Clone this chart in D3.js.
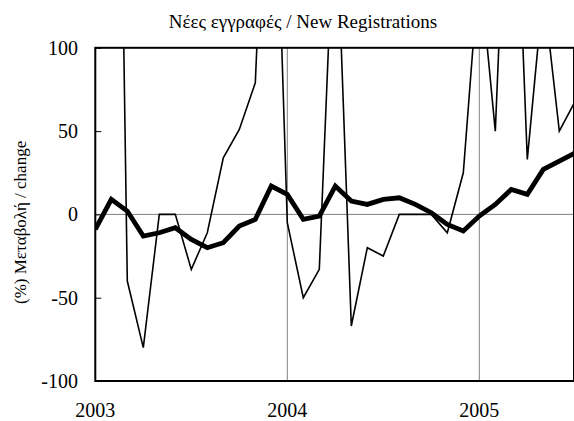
<!DOCTYPE html>
<html>
<head>
<meta charset="utf-8">
<script src="https://cdn.jsdelivr.net/npm/d3@7"></script>
<style>
  html, body { margin: 0; padding: 0; background: #fff; }
  svg { display: block; font-family: "Liberation Serif", "Times New Roman", serif; }
</style>
</head>
<body>
<svg id="chart" width="574" height="421"></svg>
<script>
// Monthly observations, Jan 2003 – Jul 2005
const months = [
  "2003-01","2003-02","2003-03","2003-04","2003-05","2003-06","2003-07","2003-08","2003-09","2003-10","2003-11","2003-12",
  "2004-01","2004-02","2004-03","2004-04","2004-05","2004-06","2004-07","2004-08","2004-09","2004-10","2004-11","2004-12",
  "2005-01","2005-02","2005-03","2005-04","2005-05","2005-06","2005-07"
];

// Monthly % change (thin line); many values run far above the axis range
const monthlyChange = [
  null, 600, -40, -80, 0, 0, -33, -11, 34, 51, 79, 300,
  -5, -50, -33, 200, -67, -20, -25, 0, 0, 0, -11, 25,
  150, 50, 280, 33, 135, 50, 68
];

// Smoothed % change (thick line)
const smoothedChange = [
  -9, 9, 2, -13, -11, -8, -15, -20, -17, -7, -3, 17,
  12, -3, -1, 17, 8, 6, 9, 10, 6, 1, -6, -10,
  -1, 6, 15, 12, 27, 32, 37
];

const yTicks = [-100, -50, 0, 50, 100];
const yearLabels = ["2003", "2004", "2005"];
const yearIndex = [0, 12, 24];

const svg = d3.select("#chart");
const plot = { left: 95.3, right: 574, top: 47.8, bottom: 381 };

const x = d3.scaleLinear().domain([0, months.length - 1]).range([plot.left, plot.left + 16 * (months.length - 1)]);
const y = d3.scaleLinear().domain([-100, 100]).range([plot.bottom, plot.top]);

svg.append("defs").append("clipPath").attr("id", "plotClip")
  .append("rect")
  .attr("x", plot.left).attr("y", plot.top)
  .attr("width", plot.right - plot.left).attr("height", plot.bottom - plot.top);

// Title
svg.append("text")
  .attr("x", 303).attr("y", 28)
  .attr("text-anchor", "middle")
  .attr("font-size", 19)
  .text("Νέες εγγραφές / New Registrations");

// Y axis title
svg.append("text")
  .attr("transform", `translate(26,${(plot.top + plot.bottom) / 2 + 8}) rotate(-90)`)
  .attr("text-anchor", "middle")
  .attr("font-size", 17)
  .text("(%) Μεταβολή / change");

// Gridlines: zero line and year boundaries
svg.append("line")
  .attr("x1", plot.left).attr("x2", plot.right)
  .attr("y1", y(0)).attr("y2", y(0))
  .attr("stroke", "#808080").attr("stroke-width", 1);

svg.selectAll("line.year")
  .data(yearIndex.slice(1))
  .join("line")
  .attr("class", "year")
  .attr("x1", d => x(d)).attr("x2", d => x(d))
  .attr("y1", plot.top).attr("y2", plot.bottom)
  .attr("stroke", "#808080").attr("stroke-width", 1);

// Y axis ticks (inward) and labels
const yAxis = d3.axisRight(y).tickValues(yTicks).tickSize(6).tickFormat("");
svg.append("g")
  .attr("transform", `translate(${plot.left},0)`)
  .call(yAxis)
  .call(g => g.select(".domain").remove())
  .call(g => g.selectAll("line").attr("stroke", "#000"));

svg.selectAll("text.ylab")
  .data(yTicks)
  .join("text")
  .attr("class", "ylab")
  .attr("x", 78)
  .attr("y", d => y(d))
  .attr("dy", "0.35em")
  .attr("text-anchor", "end")
  .attr("font-size", 20)
  .text(d => d);

// X labels
svg.selectAll("text.xlab")
  .data(yearIndex)
  .join("text")
  .attr("class", "xlab")
  .attr("x", d => x(d))
  .attr("y", 417)
  .attr("text-anchor", "middle")
  .attr("font-size", 20)
  .text((d, i) => yearLabels[i]);

// Data lines
const lineGen = d3.line()
  .defined(d => d != null)
  .x((d, i) => x(i))
  .y(d => y(d));

const lines = svg.append("g").attr("clip-path", "url(#plotClip)");

lines.append("path")
  .datum(monthlyChange)
  .attr("fill", "none")
  .attr("stroke", "#000")
  .attr("stroke-width", 1.6)
  .attr("stroke-linejoin", "miter")
  .attr("d", lineGen);

lines.append("path")
  .datum(smoothedChange)
  .attr("fill", "none")
  .attr("stroke", "#000")
  .attr("stroke-width", 4.8)
  .attr("stroke-linejoin", "miter")
  .attr("d", lineGen);

// Plot frame
svg.append("rect")
  .attr("x", plot.left).attr("y", plot.top)
  .attr("width", plot.right - plot.left).attr("height", plot.bottom - plot.top)
  .attr("fill", "none")
  .attr("stroke", "#000").attr("stroke-width", 2);
</script>
</body>
</html>
